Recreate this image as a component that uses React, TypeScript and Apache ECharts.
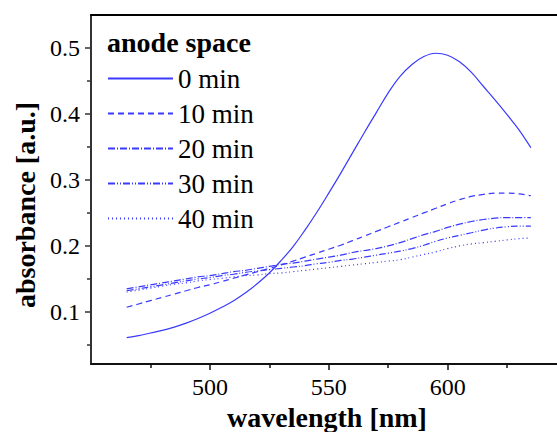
import React, { useEffect, useRef } from "react";
import * as echarts from "echarts";

const wavelengths = [465, 470, 475, 480, 485, 490, 495, 500, 505, 510, 515, 520, 525, 530, 535, 540, 545, 550, 555, 560, 565, 570, 575, 580, 585, 590, 595, 600, 605, 610, 615, 620, 625, 630, 635];

const min0 = [0.061, 0.064, 0.068, 0.072, 0.077, 0.083, 0.090, 0.098, 0.107, 0.117, 0.129, 0.143, 0.159, 0.178, 0.199, 0.224, 0.251, 0.280, 0.310, 0.341, 0.372, 0.402, 0.432, 0.457, 0.475, 0.487, 0.492, 0.489, 0.479, 0.463, 0.442, 0.421, 0.399, 0.376, 0.349];
const min10 = [0.107, 0.112, 0.117, 0.122, 0.127, 0.132, 0.137, 0.141, 0.146, 0.151, 0.156, 0.161, 0.166, 0.171, 0.177, 0.183, 0.189, 0.195, 0.201, 0.208, 0.215, 0.222, 0.229, 0.236, 0.243, 0.250, 0.257, 0.264, 0.270, 0.275, 0.278, 0.280, 0.280, 0.279, 0.276];
const min20 = [0.135, 0.138, 0.141, 0.144, 0.147, 0.150, 0.153, 0.155, 0.158, 0.161, 0.163, 0.166, 0.169, 0.172, 0.174, 0.177, 0.180, 0.183, 0.186, 0.190, 0.193, 0.196, 0.200, 0.205, 0.211, 0.217, 0.222, 0.228, 0.233, 0.237, 0.240, 0.242, 0.243, 0.243, 0.243];
const min30 = [0.132, 0.135, 0.138, 0.141, 0.144, 0.147, 0.150, 0.152, 0.155, 0.157, 0.160, 0.162, 0.164, 0.166, 0.168, 0.170, 0.173, 0.175, 0.178, 0.180, 0.183, 0.186, 0.189, 0.192, 0.196, 0.201, 0.207, 0.212, 0.216, 0.220, 0.224, 0.227, 0.229, 0.230, 0.230];
const min40 = [0.130, 0.133, 0.136, 0.139, 0.142, 0.144, 0.147, 0.149, 0.151, 0.153, 0.155, 0.156, 0.158, 0.159, 0.161, 0.163, 0.165, 0.167, 0.169, 0.171, 0.173, 0.175, 0.177, 0.179, 0.183, 0.187, 0.191, 0.196, 0.200, 0.203, 0.205, 0.207, 0.209, 0.211, 0.212];

const seriesNames = ["0 min", "10 min", "20 min", "30 min", "40 min"];
const seriesValues = [min0, min10, min20, min30, min40];
const dashTypes: any[] = ["solid", [6, 4], [7, 2, 1, 2], [7, 2, 1, 2, 1, 2], [1, 3]];

const xMajorTicks = [500, 550, 600];
const xMinorTicks = [475, 525, 575, 625];
const yMajorTicks = [0.1, 0.2, 0.3, 0.4, 0.5];
const yMinorTicks = [0.05, 0.15, 0.25, 0.35, 0.45];

const legendTitle = "anode space";
const xTitle = "wavelength [nm]";
const yTitle = "absorbance [a.u.]";

const FONT = "Liberation Serif";
const LINE_COLOR = "#3a3aff";

export default function App() {
  const ref = useRef<HTMLDivElement>(null);

  useEffect(() => {
    if (!ref.current) return;
    const chart = echarts.init(ref.current, undefined, { renderer: "svg" });
    const xMin = 450;
    const xMax = 646;
    const yMin = 0.021;
    const yMax = 0.55;
    const baseX = {
      type: "value" as const,
      min: xMin,
      max: xMax,
      splitLine: { show: false },
    };
    const baseY = {
      type: "value" as const,
      min: yMin,
      max: yMax,
      splitLine: { show: false },
    };
    const option: any = {
      animation: false,
      backgroundColor: "#fff",
      grid: { left: 91, right: 0, top: 15, bottom: 68, containLabel: false },
      xAxis: [
        {
          ...baseX,
          position: "bottom",
          axisLine: { show: true, lineStyle: { color: "#111", width: 2 } },
          axisTick: { show: true, customValues: xMajorTicks, length: 6, inside: false, lineStyle: { color: "#111", width: 1.5 } },
          axisLabel: { show: true, customValues: xMajorTicks, fontSize: 24, fontFamily: FONT, color: "#000", margin: 11 },
        },
        {
          ...baseX,
          position: "bottom",
          axisLine: { show: false },
          axisTick: { show: true, customValues: xMinorTicks, length: 4, lineStyle: { color: "#111", width: 1.5 } },
          axisLabel: { show: false },
        },
        {
          ...baseX,
          position: "top",
          axisLine: { show: true, lineStyle: { color: "#000", width: 2 } },
          axisTick: { show: false },
          axisLabel: { show: false },
        },
      ],
      yAxis: [
        {
          ...baseY,
          position: "left",
          axisLine: { show: true, lineStyle: { color: "#333", width: 2 } },
          axisTick: { show: true, customValues: yMajorTicks, length: 6, lineStyle: { color: "#333", width: 1.5 } },
          axisLabel: { show: true, customValues: yMajorTicks, fontSize: 24, fontFamily: FONT, color: "#000", margin: 11 },
        },
        {
          ...baseY,
          position: "left",
          axisLine: { show: false },
          axisTick: { show: true, customValues: yMinorTicks, length: 4, lineStyle: { color: "#333", width: 1.5 } },
          axisLabel: { show: false },
        },
      ],
      legend: {
        show: true,
        orient: "vertical",
        left: 107,
        top: 65,
        padding: 0,
        itemWidth: 65,
        itemHeight: 26,
        itemGap: 8,
        data: seriesNames,
        itemStyle: { color: "transparent", borderColor: "transparent", borderWidth: 0, opacity: 0 },
        textStyle: { fontSize: 27, fontFamily: FONT, color: "#000", lineHeight: 26 },
        selectedMode: false,
      },
      graphic: [
        {
          type: "text",
          left: 107,
          top: 28,
          style: { text: legendTitle, font: `bold 28px ${FONT}`, fill: "#000" },
        },
        {
          type: "text",
          x: 327,
          y: 417,
          style: { text: xTitle, font: `bold 28px ${FONT}`, fill: "#000", align: "center", verticalAlign: "middle" },
        },
        {
          type: "text",
          x: 25,
          y: 205,
          rotation: Math.PI / 2,
          style: { text: yTitle, font: `bold 28px ${FONT}`, fill: "#000", align: "center", verticalAlign: "middle" },
        },
      ],
      series: seriesNames.map((name, i) => ({
        name,
        type: "line",
        xAxisIndex: 0,
        yAxisIndex: 0,
        symbol: "none",
        smooth: 0.4,
        data: wavelengths.map((w, j) => [w, seriesValues[i][j]]),
        lineStyle: { color: LINE_COLOR, width: 1.2, type: dashTypes[i] },
        itemStyle: { color: LINE_COLOR },
      })),
    };
    chart.setOption(option);
    return () => chart.dispose();
  }, []);

  return (
    <div
      ref={ref}
      style={{ position: "fixed", left: 0, top: 0, width: 557, height: 432, background: "#fff" }}
    />
  );
}
